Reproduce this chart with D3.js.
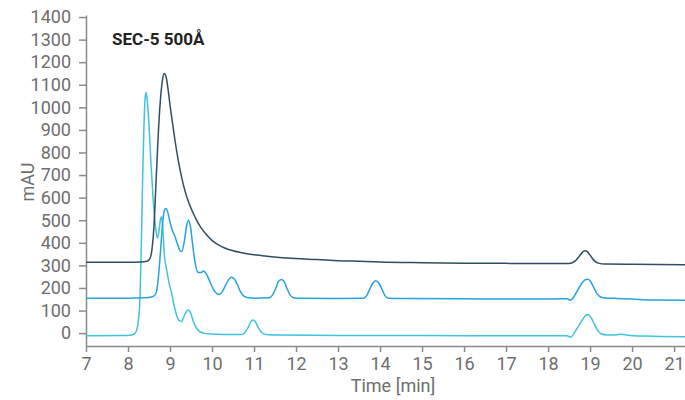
<!DOCTYPE html>
<html>
<head>
<meta charset="utf-8">
<script src="https://cdn.jsdelivr.net/npm/d3@7"></script>
<style>
  html, body { margin: 0; padding: 0; background: #fff; }
  svg { display: block; font-family: Roboto, "Noto Sans", sans-serif; }
</style>
</head>
<body>
<svg id="chart" width="685" height="400"></svg>
<script>
// Chromatogram traces: [time (min), absorbance (mAU)]
const traceDark = [
  [7.0, 314], [8.0, 314], [8.3, 315], [8.45, 318], [8.52, 330], [8.57, 370],
  [8.62, 480], [8.67, 680], [8.72, 880], [8.77, 1030], [8.82, 1120], [8.86, 1150],
  [8.9, 1140], [8.95, 1085], [9.0, 1010], [9.06, 930], [9.12, 852], [9.2, 762],
  [9.28, 688], [9.36, 628], [9.45, 576], [9.55, 532], [9.65, 494], [9.75, 464],
  [9.87, 436], [10.0, 411], [10.15, 391], [10.3, 377], [10.5, 365], [10.8, 353],
  [11.2, 343], [11.6, 335], [12.0, 330], [12.5, 326], [13.0, 321], [13.5, 318],
  [14.0, 315], [15.0, 312], [16.0, 310], [17.0, 309], [18.0, 308], [18.45, 308],
  [18.56, 311], [18.65, 320], [18.74, 340], [18.82, 359], [18.88, 365], [18.94, 360],
  [19.02, 340], [19.1, 321], [19.2, 310], [19.35, 306], [20.0, 305], [21.3, 303]
];

const traceMid = [
  [7.0, 155], [8.0, 155], [8.4, 157], [8.55, 160], [8.63, 166], [8.68, 185],
  [8.72, 240], [8.76, 330], [8.8, 430], [8.84, 515], [8.87, 545], [8.9, 552],
  [8.94, 540], [8.99, 500], [9.05, 458], [9.11, 432], [9.17, 398], [9.23, 368],
  [9.28, 361], [9.34, 405], [9.39, 470], [9.44, 500], [9.49, 468], [9.54, 390],
  [9.6, 310], [9.66, 270], [9.73, 268], [9.8, 275], [9.87, 260], [9.95, 228],
  [10.04, 192], [10.11, 176], [10.17, 171], [10.25, 185], [10.33, 215], [10.4, 238],
  [10.47, 247], [10.54, 238], [10.61, 212], [10.68, 183], [10.76, 164], [10.86, 157],
  [11.0, 155], [11.36, 157], [11.44, 168], [11.52, 200], [11.58, 228], [11.65, 238],
  [11.72, 228], [11.78, 200], [11.86, 168], [11.94, 157], [12.1, 154], [13.0, 153],
  [13.6, 154], [13.68, 165], [13.76, 197], [13.83, 222], [13.9, 232], [13.97, 222],
  [14.04, 197], [14.12, 165], [14.2, 155], [14.5, 153], [16.0, 152], [17.5, 151],
  [18.0, 151], [18.3, 152], [18.45, 152], [18.54, 146], [18.62, 163], [18.72, 195],
  [18.82, 225], [18.9, 238], [18.95, 239], [19.0, 232], [19.08, 205], [19.16, 176],
  [19.24, 161], [19.35, 156], [19.6, 154], [20.0, 151], [20.5, 147], [21.3, 146]
];

const traceLight = [
  [7.0, -12], [7.8, -11], [8.05, -9], [8.15, -4], [8.2, 10], [8.25, 60],
  [8.29, 180], [8.32, 420], [8.35, 700], [8.38, 920], [8.41, 1045], [8.43, 1066],
  [8.46, 1030], [8.5, 920], [8.55, 740], [8.6, 590], [8.65, 480], [8.7, 420],
  [8.74, 455], [8.77, 500], [8.8, 515], [8.83, 460], [8.86, 360], [8.92, 280],
  [8.98, 220], [9.04, 175], [9.1, 120], [9.16, 78], [9.22, 55], [9.27, 52],
  [9.33, 72], [9.39, 95], [9.44, 102], [9.49, 90], [9.55, 55], [9.62, 25],
  [9.7, 8], [9.8, 0], [9.95, -4], [10.3, -6], [10.7, -6], [10.78, 2],
  [10.86, 25], [10.92, 50], [10.98, 58], [11.04, 48], [11.1, 25], [11.18, 3],
  [11.28, -6], [11.6, -8], [13.0, -10], [15.0, -11], [17.0, -12], [18.0, -12],
  [18.3, -12], [18.45, -12], [18.54, -18], [18.62, 0], [18.72, 30], [18.82, 60],
  [18.9, 79], [18.96, 83], [19.02, 70], [19.1, 40], [19.18, 12], [19.26, -3],
  [19.4, -8], [19.6, -8], [19.75, -5], [19.9, -9], [20.3, -13], [21.3, -16]
];

const xTicks = d3.range(7, 22, 1);
const yTicks = d3.range(0, 1500, 100);
const chartTitle = "SEC-5 500Å";
const xTitle = "Time [min]";
const yTitle = "mAU";

const svg = d3.select("#chart");
const margin = { left: 86, right: 0, top: 15, bottom: 54 };
const W = 685, H = 400;

const x = d3.scaleLinear().domain([7, 21.26]).range([margin.left, W - margin.right]);
const y = d3.scaleLinear().domain([-57, 1409]).range([H - margin.bottom, margin.top]);

svg.append("defs").append("clipPath").attr("id", "plot-clip")
  .append("rect")
  .attr("x", margin.left).attr("y", margin.top)
  .attr("width", W - margin.left - margin.right)
  .attr("height", H - margin.top - margin.bottom);

const axisColor = "#8a8a8a";
const textColor = "#6e6e6e";

// X axis
const gx = svg.append("g")
  .attr("transform", `translate(0,${H - margin.bottom})`)
  .call(d3.axisBottom(x).tickValues(xTicks).tickFormat(d3.format("d"))
    .tickSize(6).tickSizeOuter(0).tickPadding(5));

// Y axis
const gy = svg.append("g")
  .attr("transform", `translate(${margin.left},0)`)
  .call(d3.axisLeft(y).tickValues(yTicks).tickFormat(d3.format("d"))
    .tickSize(7).tickSizeOuter(0).tickPadding(8));

[gx, gy].forEach(g => {
  g.select(".domain").attr("stroke", axisColor).attr("stroke-width", 1.5);
  g.selectAll(".tick line").attr("stroke", axisColor).attr("stroke-width", 1.5);
  g.selectAll(".tick text").attr("fill", textColor)
    .style("font-size", "18px").style("font-family", "Roboto, sans-serif");
});

// Axis titles
svg.append("text")
  .attr("x", 393).attr("y", 392)
  .attr("text-anchor", "middle")
  .attr("fill", textColor)
  .style("font-size", "18px")
  .text(xTitle);

svg.append("text")
  .attr("transform", `translate(34,182) rotate(-90)`)
  .attr("text-anchor", "middle")
  .attr("fill", textColor)
  .style("font-size", "18px")
  .text(yTitle);

// Chart title
svg.append("text")
  .attr("x", 112).attr("y", 45)
  .attr("fill", "#222")
  .style("font-size", "17px")
  .style("font-weight", "700")
  .text(chartTitle);

// Traces
const line = d3.line()
  .x(d => x(d[0]))
  .y(d => y(d[1]))
  .curve(d3.curveMonotoneX);

const traces = [
  { data: traceLight, color: "#3fc3e0" },
  { data: traceMid, color: "#25a3dc" },
  { data: traceDark, color: "#2f4d63" }
];

svg.append("g").attr("clip-path", "url(#plot-clip)")
  .selectAll("path")
  .data(traces)
  .join("path")
  .attr("d", d => line(d.data))
  .attr("fill", "none")
  .attr("stroke", d => d.color)
  .attr("stroke-width", 1.5)
  .attr("stroke-linejoin", "round");
</script>
</body>
</html>
